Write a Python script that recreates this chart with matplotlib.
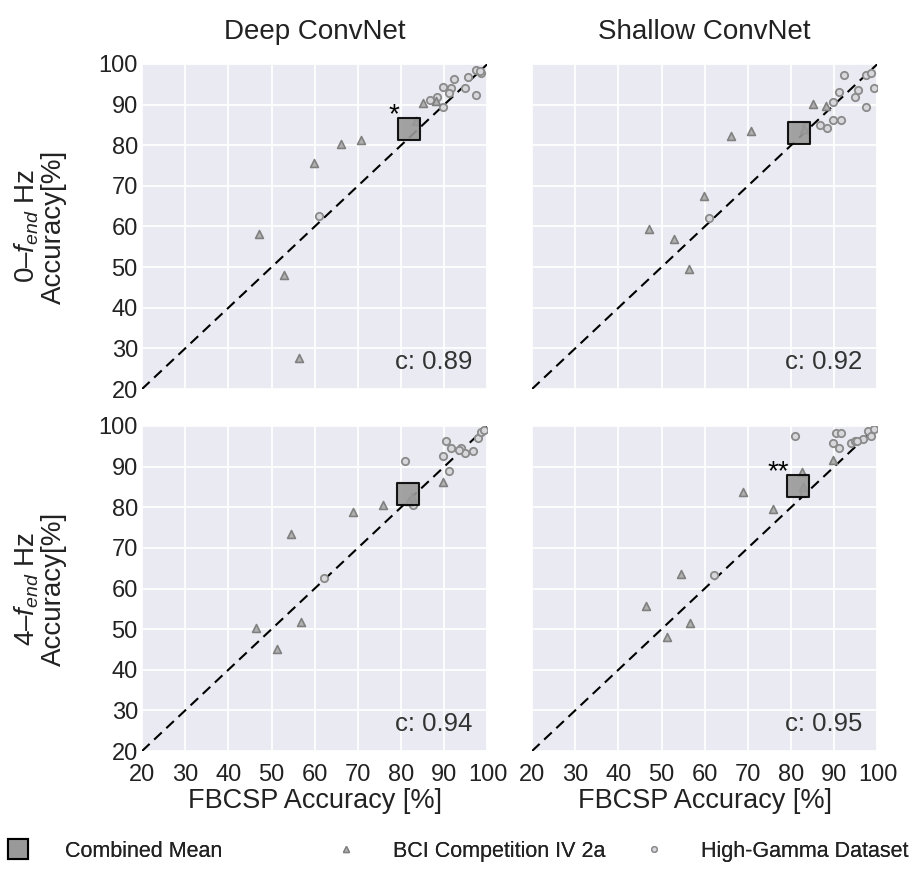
#!/usr/bin/env python3
import matplotlib
matplotlib.use('Agg')
import matplotlib.pyplot as plt
from matplotlib.lines import Line2D
import seaborn as sns

sns.set_style('darkgrid')
plt.rcParams['font.family'] = ['Liberation Sans', 'DejaVu Sans']
plt.rcParams['mathtext.fontset'] = 'custom'
plt.rcParams['mathtext.it'] = 'Liberation Sans:italic'
plt.rcParams['mathtext.rm'] = 'Liberation Sans'

col_titles = ['Deep ConvNet', 'Shallow ConvNet']
row_labels = ['0–$f_{end}$ Hz\nAccuracy[%]', '4–$f_{end}$ Hz\nAccuracy[%]']
ticks = [20, 30, 40, 50, 60, 70, 80, 90, 100]

# BCI Competition IV 2a (FBCSP accuracy, ConvNet accuracy), per panel
bci_x_deep_0 = [85.1, 88.1, 83.4, 66.1, 70.6, 59.8, 47.1, 52.8, 56.4]
bci_y_deep_0 = [90.5, 90.8, 85.9, 80.2, 81.2, 75.6, 58.1, 48.0, 27.6]
bci_x_shallow_0 = [85.1, 88.1, 83.0, 66.1, 70.6, 59.8, 47.1, 52.8, 56.4]
bci_y_shallow_0 = [90.2, 89.6, 84.0, 82.2, 83.6, 67.5, 59.5, 57.0, 49.5]
bci_x_deep_4 = [89.7, 82.5, 81.8, 75.8, 68.8, 54.6, 56.7, 46.3, 51.2]
bci_y_deep_4 = [86.1, 82.6, 81.5, 80.6, 78.9, 73.4, 51.8, 50.4, 45.2]
bci_x_shallow_4 = [89.7, 82.5, 82.8, 75.8, 68.8, 54.6, 46.3, 56.7, 51.2]
bci_y_shallow_4 = [91.6, 88.6, 85.1, 79.6, 83.8, 63.6, 55.6, 51.5, 48.0]

# High-Gamma Dataset
hg_x_deep_0 = [60.9, 86.7, 88.4, 89.7, 89.7, 91.6, 91.0, 92.2, 94.7, 95.4, 97.3, 97.3, 98.5, 98.2]
hg_y_deep_0 = [62.6, 91.2, 91.8, 89.3, 94.3, 94.2, 92.9, 96.2, 94.2, 96.9, 92.4, 98.6, 97.9, 98.3]
hg_x_shallow_0 = [60.9, 83.4, 86.7, 88.4, 89.7, 91.6, 89.7, 91.0, 92.2, 94.7, 95.4, 97.3, 97.3, 98.5, 99.2]
hg_y_shallow_0 = [62.0, 84.7, 85.0, 84.3, 86.2, 86.2, 90.6, 93.0, 97.3, 91.8, 93.7, 89.3, 97.3, 97.9, 94.2]
hg_x_deep_4 = [62.2, 80.8, 82.8, 89.7, 90.4, 91.0, 91.6, 93.9, 94.7, 96.6, 97.9, 98.5, 99.2, 93.4]
hg_y_deep_4 = [62.7, 91.3, 80.6, 92.6, 96.4, 88.9, 94.5, 94.5, 93.4, 93.9, 97.0, 98.4, 98.9, 94.1]
hg_x_shallow_4 = [62.2, 80.8, 90.4, 91.6, 89.7, 91.0, 93.9, 94.7, 96.6, 97.9, 98.5, 99.2, 95.2, 83.0]
hg_y_shallow_4 = [63.4, 97.5, 98.2, 98.2, 95.7, 94.5, 95.7, 96.4, 96.9, 98.8, 97.6, 99.3, 96.2, 83.5]

# combined means and significance markers
mean_x = [81.8, 81.8, 81.7, 81.7]
mean_y = [84.0, 83.0, 83.3, 85.2]
corr = ['0.89', '0.92', '0.94', '0.95']
signif = ['*', '', '', '**']

bci_x = [bci_x_deep_0, bci_x_shallow_0, bci_x_deep_4, bci_x_shallow_4]
bci_y = [bci_y_deep_0, bci_y_shallow_0, bci_y_deep_4, bci_y_shallow_4]
hg_x = [hg_x_deep_0, hg_x_shallow_0, hg_x_deep_4, hg_x_shallow_4]
hg_y = [hg_y_deep_0, hg_y_shallow_0, hg_y_deep_4, hg_y_shallow_4]

TXT = '#222222'
fig = plt.figure(figsize=(9.11, 8.74), dpi=100)
lefts = [0.1559, 0.5840]
bottoms = [0.5549, 0.1407]
w, h = 0.3792, 0.3719

for i in range(4):
    r, c = divmod(i, 2)
    ax = fig.add_axes([lefts[c], bottoms[r], w, h])
    ax.set_facecolor('#EAEAF2')
    ax.plot([20, 100], [20, 100], color='black', ls='--', lw=1.5, dashes=(5, 3), zorder=2)
    ax.scatter(hg_x[i], hg_y[i], marker='o', s=28, facecolor='#d8d8dc',
               edgecolor='#8a8a8a', linewidth=1.3, zorder=3)
    ax.scatter(bci_x[i], bci_y[i], marker='^', s=32, facecolor='#b0b0b0',
               edgecolor='#808080', linewidth=1.2, zorder=3)
    ax.scatter([mean_x[i]], [mean_y[i]], marker='s', s=240, facecolor='#999999',
               edgecolor='black', linewidth=1.5, alpha=0.9, zorder=4)
    if signif[i]:
        ax.text(mean_x[i] - 2.2, mean_y[i] + 0.2, signif[i], ha='right', va='bottom',
                fontsize=20, color='black', zorder=5)
    ax.text(0.955, 0.045, 'c: ' + corr[i], transform=ax.transAxes, ha='right',
            va='bottom', fontsize=18.5, color='#333333')
    ax.set_xlim(20, 100)
    ax.set_ylim(20, 100)
    ax.set_xticks(ticks)
    ax.set_yticks(ticks)
    ax.grid(color='white', linewidth=1.3)
    for s in ax.spines.values():
        s.set_visible(False)
    ax.tick_params(length=0, labelsize=17, labelcolor=TXT)
    ax.tick_params(axis='y', pad=3)
    ax.tick_params(axis='x', pad=9)
    if r == 0:
        ax.set_xticklabels([])
        ax.set_title(col_titles[c], fontsize=20, pad=18, color=TXT)
    else:
        ax.set_xlabel('FBCSP Accuracy [%]', fontsize=19.5, color=TXT, labelpad=2)
    if c == 1:
        ax.set_yticklabels([])
    else:
        ax.set_ylabel(row_labels[r], fontsize=20, color=TXT, linespacing=1.0)
        ax.yaxis.set_label_coords(-0.218, 0.5)

# legend entries placed one by one along the bottom edge
handles = [
    Line2D([], [], ls='', marker='s', markersize=14, markerfacecolor='#999999',
           markeredgecolor='black', markeredgewidth=1.5),
    Line2D([], [], ls='', marker='^', markersize=4, markerfacecolor='#b0b0b0',
           markeredgecolor='#808080'),
    Line2D([], [], ls='', marker='o', markersize=4, markerfacecolor='#d8d8dc',
           markeredgecolor='#8a8a8a'),
]
labels = ['Combined Mean', 'BCI Competition IV 2a', 'High-Gamma Dataset']
leg_x = [7 / 911, 335 / 911, 643 / 911]
for hnd, lab, x0 in zip(handles, labels, leg_x):
    leg = fig.legend([hnd], [lab], loc='center left', bbox_to_anchor=(x0, 0.026),
                     frameon=False, fontsize=15.5, handlelength=1.0, handletextpad=1.7,
                     borderpad=0, borderaxespad=0, labelcolor=TXT)
    fig.add_artist(leg)

fig.savefig('out.png', dpi=100)
